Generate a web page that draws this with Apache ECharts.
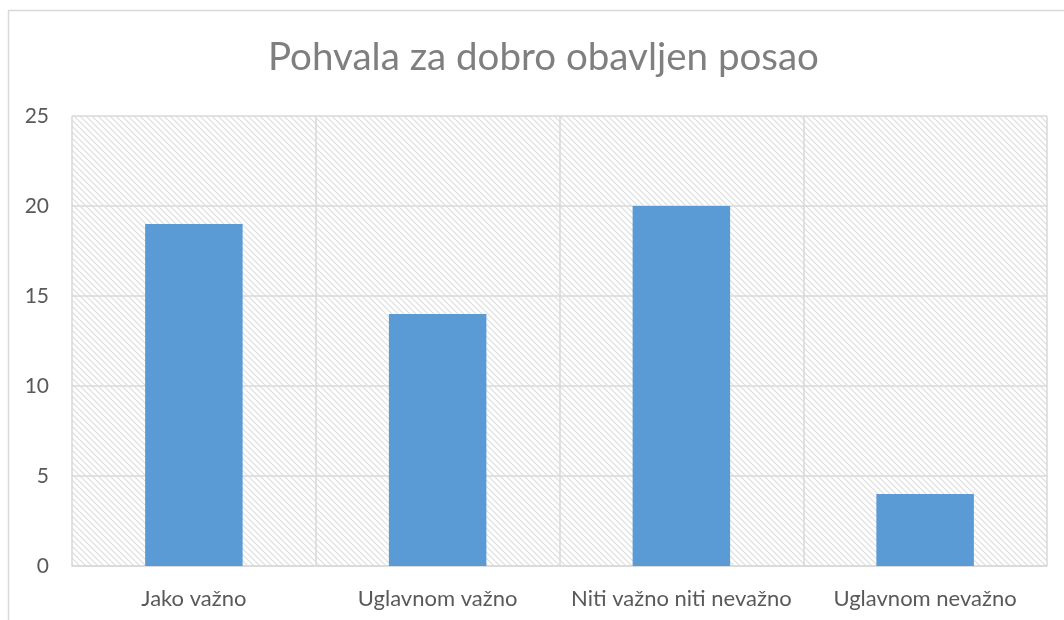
<!DOCTYPE html>
<html>
<head>
<meta charset="utf-8">
<script src="https://cdn.jsdelivr.net/npm/echarts@6/dist/echarts.min.js"></script>
<style>
html, body { margin: 0; padding: 0; background: #fff; }
#chart { width: 1064px; height: 620px; }
</style>
</head>
<body>
<div id="chart"></div>
<script>
var categories = ["Jako važno", "Uglavnom važno", "Niti važno niti nevažno", "Uglavnom nevažno"];
var values = [19, 14, 20, 4];
var yTicks = { min: 0, max: 25, interval: 5 };

// diagonal hatch tile for the plot background
function makeHatch() {
    var size = 6;
    var c = document.createElement('canvas');
    c.width = size;
    c.height = size;
    var ctx = c.getContext('2d');
    ctx.fillStyle = '#ffffff';
    ctx.fillRect(0, 0, size, size);
    ctx.strokeStyle = '#dcdcdc';
    ctx.lineWidth = 1.1;
    ctx.beginPath();
    ctx.moveTo(-1, -1);
    ctx.lineTo(size + 1, size + 1);
    ctx.moveTo(-1, size - 1);
    ctx.lineTo(1, size + 1);
    ctx.moveTo(size - 1, -1);
    ctx.lineTo(size + 1, 1);
    ctx.stroke();
    return c;
}

var chart = echarts.init(document.getElementById('chart'));
var font = 'Lato, "Liberation Sans", sans-serif';
chart.setOption({
    animation: false,
    backgroundColor: '#ffffff',
    graphic: [{
        type: 'rect',
        shape: { x: 8.5, y: 10.5, width: 1100, height: 700 },
        style: { fill: 'none', stroke: '#d9d9d9', lineWidth: 1.5 },
        silent: true
    }],
    title: {
        text: 'Pohvala za dobro obavljen posao',
        left: 263,
        top: 33,
        textStyle: {
            fontFamily: font,
            fontSize: 38.5,
            fontWeight: 'normal',
            color: '#7f7f7f'
        }
    },
    grid: {
        left: 72,
        top: 116,
        right: 17,
        bottom: 54,
        show: true,
        borderWidth: 0,
        backgroundColor: { image: makeHatch(), repeat: 'repeat' }
    },
    xAxis: {
        type: 'category',
        data: categories,
        axisLine: { lineStyle: { color: '#d9d9d9', width: 1.5 } },
        axisTick: { show: false },
        splitLine: { show: true, lineStyle: { color: '#d9d9d9', width: 1.5 } },
        axisLabel: {
            fontFamily: font,
            fontSize: 22,
            color: '#595959',
            margin: 22,
            interval: 0
        }
    },
    yAxis: {
        type: 'value',
        min: yTicks.min,
        max: yTicks.max,
        interval: yTicks.interval,
        axisLine: { show: false },
        axisTick: { show: false },
        splitLine: { lineStyle: { color: '#d9d9d9', width: 1.5 } },
        axisLabel: {
            fontFamily: font,
            fontSize: 21,
            color: '#595959',
            margin: 23
        }
    },
    series: [{
        type: 'bar',
        data: values,
        barWidth: '40%',
        itemStyle: { color: '#5b9bd5' }
    }]
});
</script>
</body>
</html>
